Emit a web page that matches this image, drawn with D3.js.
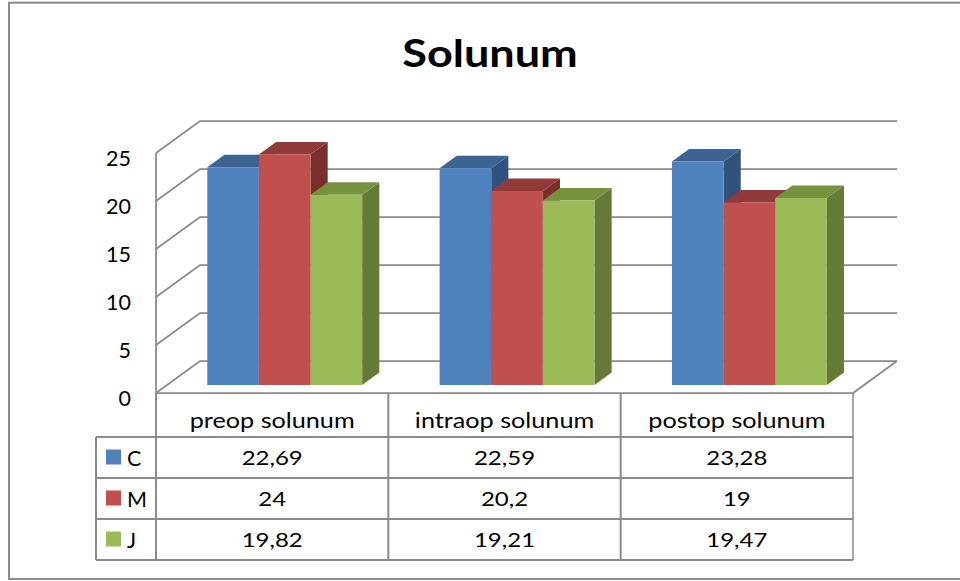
<!DOCTYPE html>
<html>
<head>
<meta charset="utf-8">
<script src="https://cdn.jsdelivr.net/npm/d3@7"></script>
<style>
  body { margin: 0; background: #fff; }
  text { font-family: Lato, "Open Sans", sans-serif; fill: #000; }
</style>
</head>
<body>
<svg id="chart" width="960" height="581"></svg>
<script>
// ---- data ----
const chartTitle = "Solunum";
const categories = ["preop solunum", "intraop solunum", "postop solunum"];
const seriesNames = ["C", "M", "J"];
const valuesC = [22.69, 22.59, 23.28];
const valuesM = [24, 20.2, 19];
const valuesJ = [19.82, 19.21, 19.47];
const yTicks = [0, 5, 10, 15, 20, 25];

const seriesValues = { C: valuesC, M: valuesM, J: valuesJ };
const palette = {
  C: { front: "#4F81BD", top: "#3C6392", side: "#31527B" },
  M: { front: "#C0504D", top: "#903B39", side: "#7A2F2D" },
  J: { front: "#9BBB59", top: "#77923F", side: "#657A36" }
};

// decimal comma, as in the table
const fmt = v => String(v).replace(".", ",");

const svg = d3.select("#chart");

// ---- layout ----
const plotLeft = 156, plotRight = 853;
const depthDx = 44, depthDy = -32;      // full floor depth offset
const barFront = 0.25, barBack = 0.64;  // bar position inside the depth
const tableRows = [437, 478, 519, 560];
const tableTop = 393;
const legendLeft = 96;
const textStretch = 1.2;                // wide-set text in title and table

const y = d3.scaleLinear().domain([0, 25]).range([393, 153]);
const x = d3.scaleBand().domain(categories).range([plotLeft, plotRight]);
const xs = d3.scaleBand().domain(seriesNames).range([0, x.bandwidth()])
  .paddingInner(0).paddingOuter(0.75).align(0.52);

const P = (px, v, f) => [px + f * depthDx, y(v) + f * depthDy];
const poly = pts => "M" + pts.map(p => p.join(",")).join("L") + "Z";

// horizontally widened, centred text
function wideText(parent, tx, ty, str, size, weight) {
  return parent.append("text")
    .attr("transform", `translate(${tx},${ty}) scale(${textStretch},1)`)
    .attr("text-anchor", "middle")
    .style("font-size", size + "px")
    .style("font-weight", weight || "normal")
    .text(str);
}

// ---- outer frame ----
svg.append("rect")
  .attr("x", 9).attr("y", 2.7).attr("width", 960).attr("height", 576.3)
  .attr("fill", "none").attr("stroke", "#8c8c8c").attr("stroke-width", 2);

// ---- title ----
wideText(svg, 490, 67, chartTitle, 37.5, "bold");

// ---- walls: gridlines on side wall and back wall ----
const grid = svg.append("g").attr("fill", "none")
  .attr("stroke", "#8a8a8a").attr("stroke-width", 1.75);

yTicks.forEach(t => {
  const a = P(plotLeft, t, 0), b = P(plotLeft, t, 1), c = P(plotRight, t, 1);
  grid.append("path").attr("d", "M" + a + "L" + b + "L" + c);
});
// floor outline
grid.append("path").attr("d",
  "M" + P(plotLeft, 0, 0) + "L" + P(plotRight, 0, 0) + "L" + P(plotRight, 0, 1));
// front vertical axis line, continuing through the data table
grid.append("line")
  .attr("x1", plotLeft).attr("x2", plotLeft)
  .attr("y1", y(25)).attr("y2", tableRows[3]);

// ---- y axis labels ----
svg.append("g").selectAll("text").data(yTicks).join("text")
  .attr("x", 131).attr("y", d => y(d) + 13)
  .attr("text-anchor", "end")
  .style("font-size", "21.5px")
  .text(d => d);

// ---- 3D bars ----
const bars = svg.append("g");
categories.forEach((cat, ci) => {
  seriesNames.forEach(s => {
    const v = seriesValues[s][ci];
    const x0 = x(cat) + xs(s), x1 = x0 + xs.bandwidth();
    const g = bars.append("g");
    g.append("path").attr("fill", palette[s].side)
      .attr("d", poly([P(x1, v, barFront), P(x1, 0, barFront), P(x1, 0, barBack), P(x1, v, barBack)]));
    g.append("path").attr("fill", palette[s].top)
      .attr("d", poly([P(x0, v, barFront), P(x1, v, barFront), P(x1, v, barBack), P(x0, v, barBack)]));
    g.append("path").attr("fill", palette[s].front)
      .attr("d", poly([P(x0, v, barFront), P(x1, v, barFront), P(x1, 0, barFront), P(x0, 0, barFront)]));
  });
});

// ---- data table ----
const table = svg.append("g").attr("stroke", "#8a8a8a").attr("stroke-width", 2).attr("fill", "none");
// column separators
[plotLeft, ...categories.map(c => x(c) + x.bandwidth())].forEach((cx, i) => {
  table.append("line").attr("x1", cx).attr("x2", cx)
    .attr("y1", tableTop).attr("y2", tableRows[3])
    .attr("stroke-width", i === categories.length ? 1.5 : 2);
});
// legend column left edge
table.append("line").attr("x1", legendLeft).attr("x2", legendLeft)
  .attr("y1", tableRows[0]).attr("y2", tableRows[3]);
// row separators
tableRows.forEach(ry => {
  table.append("line").attr("x1", legendLeft).attr("x2", plotRight)
    .attr("y1", ry).attr("y2", ry);
});

// header labels
const header = svg.append("g");
categories.forEach(c => wideText(header, x(c) + x.bandwidth() / 2, 428, c, 21));

// value rows with legend keys
seriesNames.forEach((s, ri) => {
  const top = tableRows[ri], bottom = tableRows[ri + 1];
  const mid = (top + bottom) / 2;
  svg.append("rect")
    .attr("x", 106).attr("y", mid - 8).attr("width", 15).attr("height", 15)
    .attr("fill", palette[s].front);
  svg.append("text")
    .attr("x", 127).attr("y", mid + 8)
    .style("font-size", "21.5px")
    .text(s);
  const row = svg.append("g");
  seriesValues[s].forEach((v, i) =>
    wideText(row, x(categories[i]) + x.bandwidth() / 2, mid + 7.5, fmt(v), 20));
});
</script>
</body>
</html>
